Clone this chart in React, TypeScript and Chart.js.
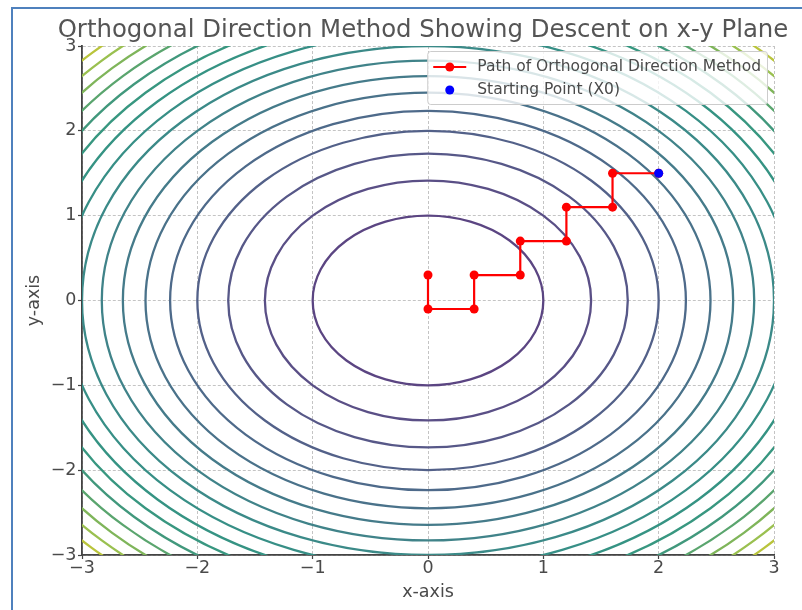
import React, { useEffect, useRef } from 'react';
import { Chart, registerables } from 'chart.js';

Chart.register(...registerables);

const TITLE = 'Orthogonal Direction Method Showing Descent on x-y Plane';
const X_LABEL = 'x-axis';
const Y_LABEL = 'y-axis';

const xTickValues = [-3, -2, -1, 0, 1, 2, 3];
const yTickValues = [-3, -2, -1, 0, 1, 2, 3];

// contour levels of f(x, y) = x^2 + y^2
const contourLevels = [1, 2, 3, 4, 5, 6, 7, 8, 9, 10, 11, 12, 13, 14, 15, 16, 17];
const contourColors = [
  '#5b4582', '#5a4f86', '#575888', '#536189', '#4e6a8a', '#4a728a', '#457b8a', '#408389',
  '#3b8a88', '#378f86', '#359383', '#389780', '#41987c', '#5aa56e', '#7fb55a', '#9ac050', '#b9c43c',
];

const pathX = [2, 1.6, 1.6, 1.2, 1.2, 0.8, 0.8, 0.4, 0.4, 0, 0];
const pathY = [1.5, 1.5, 1.1, 1.1, 0.7, 0.7, 0.3, 0.3, -0.1, -0.1, 0.3];
const startX = [2];
const startY = [1.5];

const legendLabels = ['Path of Orthogonal Direction Method', 'Starting Point (X0)'];
const PATH_COLOR = '#ff0000';
const START_COLOR = '#0000ff';

const FONT = "'DejaVu Sans', 'Liberation Sans', sans-serif";
const TEXT_COLOR = '#4a4a4a';

const fmt = (v: number | string) => {
  const n = Number(v);
  return n < 0 ? '\u2212' + Math.abs(n) : String(n);
};

const overlayPlugin = {
  id: 'overlay',
  beforeDatasetsDraw(chart: any) {
    const { ctx, chartArea, scales } = chart;
    const xs = scales.x;
    const ys = scales.y;
    ctx.save();
    ctx.beginPath();
    ctx.rect(chartArea.left, chartArea.top, chartArea.right - chartArea.left, chartArea.bottom - chartArea.top);
    ctx.clip();
    const cx = xs.getPixelForValue(0);
    const cy = ys.getPixelForValue(0);
    contourLevels.forEach((lv, i) => {
      const r = Math.sqrt(lv);
      const rx = xs.getPixelForValue(r) - cx;
      const ry = cy - ys.getPixelForValue(r);
      ctx.beginPath();
      ctx.ellipse(cx, cy, rx, ry, 0, 0, Math.PI * 2);
      ctx.strokeStyle = contourColors[i];
      ctx.lineWidth = 2.3;
      ctx.stroke();
    });
    ctx.restore();
  },
  afterDatasetsDraw(chart: any) {
    const { ctx, chartArea } = chart;
    ctx.save();
    ctx.font = `15.5px ${FONT}`;
    const tw = Math.max(...legendLabels.map((t) => ctx.measureText(t).width));
    const right = chartArea.right - 6.5;
    const top = chartArea.top + 5.5;
    const w = 49.5 + tw + 6.5;
    const h = 53;
    const left = right - w;
    ctx.beginPath();
    if ((ctx as any).roundRect) (ctx as any).roundRect(left, top, w, h, 3);
    else ctx.rect(left, top, w, h);
    ctx.fillStyle = 'rgba(255,255,255,0.8)';
    ctx.fill();
    ctx.strokeStyle = '#cccccc';
    ctx.lineWidth = 1;
    ctx.stroke();

    const row1 = top + 15.5;
    const row2 = top + 38.5;
    ctx.strokeStyle = PATH_COLOR;
    ctx.lineWidth = 2.2;
    ctx.beginPath();
    ctx.moveTo(left + 5.5, row1);
    ctx.lineTo(left + 38.5, row1);
    ctx.stroke();
    ctx.fillStyle = PATH_COLOR;
    ctx.beginPath();
    ctx.arc(left + 22, row1, 4.5, 0, Math.PI * 2);
    ctx.fill();
    ctx.fillStyle = START_COLOR;
    ctx.beginPath();
    ctx.arc(left + 22, row2, 4.5, 0, Math.PI * 2);
    ctx.fill();

    ctx.fillStyle = TEXT_COLOR;
    ctx.textBaseline = 'middle';
    ctx.textAlign = 'left';
    ctx.fillText(legendLabels[0], left + 49.5, row1);
    ctx.fillText(legendLabels[1], left + 49.5, row2);
    ctx.restore();
  },
  afterDraw(chart: any) {
    const { ctx, chartArea } = chart;
    ctx.save();
    ctx.font = `24.4px ${FONT}`;
    ctx.fillStyle = '#555555';
    ctx.textAlign = 'center';
    ctx.textBaseline = 'alphabetic';
    ctx.fillText(TITLE, (chartArea.left + chartArea.right) / 2 - 5, 37);
    ctx.fillStyle = '#4f81bd';
    ctx.fillRect(11, 7, chart.width - 11, 2);
    ctx.fillRect(11, 7, 2, chart.height - 7);
    ctx.restore();
  },
};

export default function App() {
  const ref = useRef<HTMLCanvasElement | null>(null);

  useEffect(() => {
    if (!ref.current) return;
    const chart = new Chart(ref.current, {
      type: 'scatter',
      data: {
        datasets: [
          {
            label: legendLabels[1],
            data: startX.map((x, i) => ({ x, y: startY[i] })),
            backgroundColor: START_COLOR,
            borderColor: START_COLOR,
            pointRadius: 4.5,
            pointBorderWidth: 0,
            showLine: false,
          },
          {
            label: legendLabels[0],
            data: pathX.map((x, i) => ({ x, y: pathY[i] })),
            backgroundColor: PATH_COLOR,
            borderColor: PATH_COLOR,
            pointBackgroundColor: PATH_COLOR,
            pointBorderColor: PATH_COLOR,
            pointRadius: 4.5,
            pointBorderWidth: 0,
            borderWidth: 2.2,
            showLine: true,
            tension: 0,
          },
        ],
      },
      options: {
        responsive: false,
        animation: false,
        events: [],
        layout: { padding: { top: 46, right: 28, bottom: 3.5, left: 20 } },
        plugins: {
          legend: { display: false },
          title: { display: false },
          tooltip: { enabled: false },
        },
        scales: {
          x: {
            type: 'linear',
            min: -3,
            max: 3,
            afterBuildTicks: (s: any) => {
              s.ticks = xTickValues.map((v) => ({ value: v }));
            },
            afterFit: (s: any) => {
              s.height = 51.5;
            },
            ticks: {
              callback: fmt,
              color: TEXT_COLOR,
              font: { family: FONT, size: 17.5, lineHeight: 1 },
              padding: 1,
              autoSkip: false,
              maxRotation: 0,
            },
            grid: {
              color: '#c4c4c4',
              lineWidth: 1,
              tickLength: 4,
              tickColor: '#444444',
              tickWidth: 1.2,
            },
            border: { display: true, color: '#444444', width: 1.8, dash: [3, 2] },
            title: {
              display: true,
              text: X_LABEL,
              color: TEXT_COLOR,
              font: { family: FONT, size: 17.5 },
              padding: { top: 4, bottom: 4 },
            },
          },
          y: {
            type: 'linear',
            min: -3,
            max: 3,
            afterBuildTicks: (s: any) => {
              s.ticks = yTickValues.map((v) => ({ value: v }));
            },
            afterFit: (s: any) => {
              s.width = 62;
            },
            ticks: {
              callback: fmt,
              color: TEXT_COLOR,
              font: { family: FONT, size: 17.5, lineHeight: 1 },
              padding: 1.5,
              autoSkip: false,
            },
            grid: {
              color: '#c4c4c4',
              lineWidth: 1,
              tickLength: 4,
              tickColor: '#444444',
              tickWidth: 1.2,
            },
            border: { display: true, color: '#444444', width: 1.8, dash: [3, 2] },
            title: {
              display: true,
              text: Y_LABEL,
              color: TEXT_COLOR,
              font: { family: FONT, size: 17.5 },
              padding: { top: 4, bottom: 4 },
            },
          },
        },
      },
      plugins: [overlayPlugin],
    } as any);
    return () => chart.destroy();
  }, []);

  return (
    <div style={{ position: 'fixed', left: 0, top: 0, width: 802, height: 610, background: '#ffffff' }}>
      <canvas ref={ref} width={802} height={610} style={{ display: 'block', width: 802, height: 610 }} />
    </div>
  );
}
